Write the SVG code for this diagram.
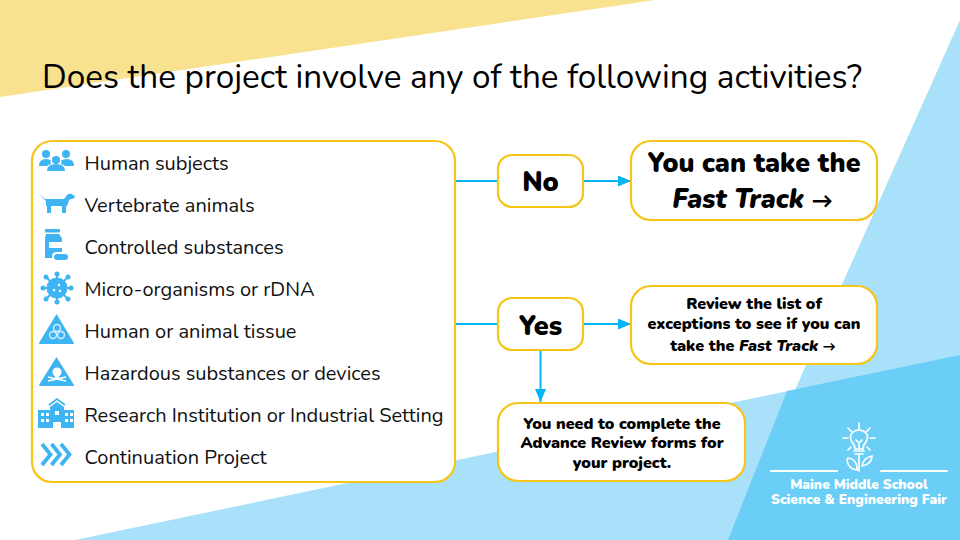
<svg xmlns="http://www.w3.org/2000/svg" width="960" height="540" viewBox="0 0 960 540">
<style>
text{font-family:"Nunito","Lato","Noto Sans","Liberation Sans",sans-serif;fill:#000}
.box{fill:#fff;stroke:#f5c518;stroke-width:2.2}
.item{font-size:20px;fill:#111}
.b{font-weight:900}
.c{text-anchor:middle}
.conn{fill:none;stroke:#00b4f5;stroke-width:2}
.ic{fill:#3fb4f3}
.w{fill:#fff}
.wl{fill:none;stroke:#fff;stroke-width:1.7;stroke-linecap:round}
.foot{font-size:13.700px;font-weight:900;fill:#fff;text-anchor:middle}
</style>
<defs><marker id="arr" markerUnits="userSpaceOnUse" markerWidth="14" markerHeight="12" refX="13" refY="5.500" orient="auto"><path d="M0 0L13 5.500L0 11Z" fill="#00b4f5"/></marker></defs>
<rect width="960" height="540" fill="#fff"/>
<polygon points="0,0 655,0 0,97" fill="#f9e28f"/>
<polygon points="960,20 728,540 960,540" fill="#a9e1fb"/>
<polygon points="75,540 960,355 960,540" fill="#a9e1fb"/>
<polygon points="960,355 787,391 728,540 960,540" fill="#6bcef7"/>
<text x="42" y="88" font-size="34" textLength="820" lengthAdjust="spacingAndGlyphs" fill="#111">Does the project involve any of the following activities?</text>
<g id="connectors">
<path class="conn" d="M455 181H498"/>
<path class="conn" d="M583 181H631" marker-end="url(#arr)"/>
<path class="conn" d="M455 324H498"/>
<path class="conn" d="M583 324H631" marker-end="url(#arr)"/>
<path class="conn" d="M540.500 351V402" marker-end="url(#arr)"/>
</g>
<g id="activities">
<rect class="box" x="32" y="141" width="423" height="341" rx="20"/>
<text class="item" x="84.500" y="169.500" textLength="144">Human subjects</text>
<text class="item" x="84.500" y="211.500" textLength="170">Vertebrate animals</text>
<text class="item" x="84.500" y="253.500" textLength="199">Controlled substances</text>
<text class="item" x="84.500" y="295.500" textLength="230">Micro-organisms or rDNA</text>
<text class="item" x="84.500" y="337.500" textLength="212">Human or animal tissue</text>
<text class="item" x="84.500" y="379.500" textLength="296">Hazardous substances or devices</text>
<text class="item" x="84.500" y="421.500" textLength="359">Research Institution or Industrial Setting</text>
<text class="item" x="84.500" y="463.500" textLength="182">Continuation Project</text>
</g>
<g id="icon-people" class="ic"><circle cx="46" cy="154" r="4"/><circle cx="66" cy="154" r="4"/><circle cx="56" cy="160" r="4"/><path d="M39 166q0-7 7-7q3 0 5 1.500q-1 2 0 3.500q-3 1-4 2zM74 166q0-7-7-7q-4 0-6 1.500q1 2 0 3.500q3 1 4 2zM47 171q0-7 9-7t9 7z"/></g>
<g id="icon-dog" class="ic"><path d="M39 194l6 5h19l3-4q2-2 5-1l1 1l2 1q0 3-4 3l-2 1l-1 4l-2 3v6h-4v-7H51v7h-4v-7l-1 0v-5z"/></g>
<g id="icon-bottle" class="ic"><rect x="45" y="229" width="15" height="3.500" rx="1"/><path d="M46 234h13l3 4v20H45v-20z"/><rect x="49" y="242" width="13" height="6" fill="#fff"/><rect x="52" y="252" width="18" height="9" rx="4.500" fill="#fff"/><rect x="54" y="254" width="14" height="6" rx="3"/></g>
<g id="icon-virus" class="ic"><circle cx="57" cy="288" r="10.500"/><path d="M57 274v28M43 288h28M47 278l20 20M67 278l-20 20" stroke="#3fb4f3" stroke-width="2"/><circle cx="57" cy="274" r="2.500"/><circle cx="57" cy="302" r="2.500"/><circle cx="43" cy="288" r="2.500"/><circle cx="71" cy="288" r="2.500"/><circle cx="46" cy="277" r="2.500"/><circle cx="68" cy="277" r="2.500"/><circle cx="46" cy="299" r="2.500"/><circle cx="68" cy="299" r="2.500"/><g fill="#fff"><circle cx="59" cy="285" r="1.200"/><circle cx="54" cy="290" r="1.200"/><circle cx="60" cy="291" r="1.200"/></g></g>
<g id="icon-biohazard"><path class="ic" d="M56.500 314l17.500 29q0.500 1-1 1H40q-1.500 0-1-1z"/><g fill="none" stroke="#d5f0fd" stroke-width="1.400"><circle cx="57" cy="328" r="3.500"/><circle cx="53" cy="335" r="3.500"/><circle cx="61" cy="335" r="3.500"/></g></g>
<g id="icon-skull"><path class="ic" d="M56.500 357l17.500 28q0.500 1-1 1H40q-1.500 0-1-1z"/><circle cx="57" cy="372" r="4.500" fill="#fff"/><rect x="55" y="375" width="4" height="3" fill="#fff"/><path d="M48 381l18-4M66 381l-18-4" stroke="#fff" stroke-width="1.700"/></g>
<g id="icon-building" class="ic"><path d="M38 410h12v-3l7-5l7 5v3h10v18H61v-6h-8v6H38z"/><path fill="none" stroke="#3fb4f3" stroke-width="1.800" d="M49 405l8-6l8 6"/><g fill="#fff"><rect x="41" y="413" width="3" height="3"/><rect x="46" y="413" width="3" height="3"/><rect x="65" y="413" width="3" height="3"/><rect x="70" y="413" width="3" height="3"/><rect x="41" y="419" width="3" height="3"/><rect x="46" y="419" width="3" height="3"/><rect x="65" y="419" width="3" height="3"/><rect x="70" y="419" width="3" height="3"/><rect x="55" y="411" width="4" height="4"/></g></g>
<g id="icon-chevrons"><path fill="none" stroke="#3fb4f3" stroke-width="3.800" d="M42 444l8.500 10.500l-8.500 10.500M51.500 444l8.500 10.500l-8.500 10.500M61 444l8.500 10.500l-8.500 10.500"/></g>
<g id="no"><rect class="box" x="498" y="155" width="85" height="52" rx="14"/><text class="c b" x="540.500" y="191" font-size="27">No</text></g>
<g id="yes"><rect class="box" x="498" y="298" width="85" height="52" rx="14"/><text class="c b" x="540.500" y="335" font-size="27">Yes</text></g>
<g id="fast"><rect class="box" x="631" y="141" width="246" height="79" rx="20"/><text class="c b" x="754" y="172" font-size="26.600">You can take the</text><text class="c b" x="752.500" y="208" font-size="26.600"><tspan font-style="italic">Fast Track</tspan> <tspan font-size="21">→</tspan></text></g>
<g id="review"><rect class="box" x="631" y="286" width="246" height="78" rx="20"/><text class="c b" x="754" y="309" font-size="16">Review the list of</text><text class="c b" x="754" y="329" font-size="16">exceptions to see if you can</text><text class="c b" x="753" y="351" font-size="16">take the <tspan font-style="italic">Fast Track</tspan> <tspan font-size="13">→</tspan></text></g>
<g id="advance"><rect class="box" x="498" y="403" width="247" height="78" rx="20"/><text class="c b" x="622" y="429" font-size="16">You need to complete the</text><text class="c b" x="622" y="448" font-size="16">Advance Review forms for</text><text class="c b" x="622" y="468" font-size="16">your project.</text></g>
<g id="logo"><path class="wl" style="stroke-width:2" d="M771 471H837M881 471H947"/><path class="wl" d="M859 423v6M848 428l3.500 3.500M870 428l-3.500 3.500M843 438h5M870 438h5M851 447l-3 3M867 447l3 3M854 451h10M855 454h8M859 455v16"/><path class="wl" d="M855 449q0-4-3-7q-3-5 0-9q3-3 7-3t7 3q3 4 0 9q-3 3-3 7zM856 440l3 3l3-3M859 443v6"/><path class="wl" d="M857 470q-9-1-10-10l1-2q8 1 9 9zM862 466q1-8 10-10q0 8-10 10z"/><text class="foot" x="859" y="489">Maine Middle School</text><text class="foot" x="859" y="504">Science &amp; Engineering Fair</text></g>
</svg>
